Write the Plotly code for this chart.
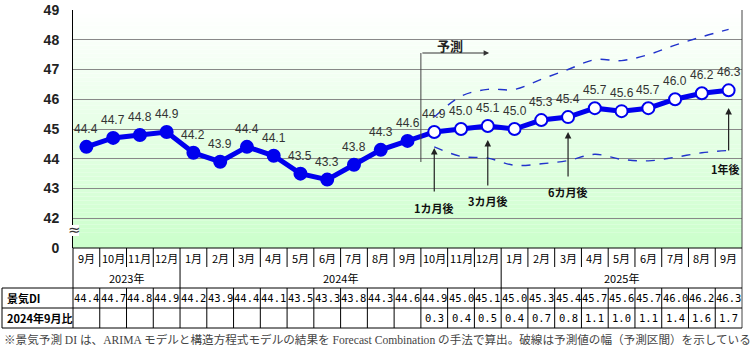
import plotly.graph_objects as go

# ---------------- data ----------------
months = ["9月", "10月", "11月", "12月", "1月", "2月", "3月", "4月", "5月", "6月", "7月", "8月",
          "9月", "10月", "11月", "12月", "1月", "2月", "3月", "4月", "5月", "6月", "7月", "8月", "9月"]
years = [("2023年", 0, 3), ("2024年", 4, 15), ("2025年", 16, 24)]
di = [44.4, 44.7, 44.8, 44.9, 44.2, 43.9, 44.4, 44.1, 43.5, 43.3, 43.8, 44.3,
      44.6, 44.9, 45.0, 45.1, 45.0, 45.3, 45.4, 45.7, 45.6, 45.7, 46.0, 46.2, 46.3]
n_actual = 13  # 2023/9 .. 2024/9 are actual values, rest forecast
ratio = [None] * 13 + [0.3, 0.4, 0.5, 0.4, 0.7, 0.8, 1.1, 1.0, 1.1, 1.4, 1.6, 1.7]
upper = [45.4, 46.1, 46.33, 46.33, 46.67, 47.0, 47.33, 47.3, 47.5, 47.82, 48.1, 48.35]
lower = [44.4, 44.08, 44.02, 43.78, 43.83, 43.94, 44.15, 43.98, 43.93, 44.05, 44.2, 44.28]
ytick_vals = [41, 42, 43, 44, 45, 46, 47, 48, 49]
ytick_text = ["0", "42", "43", "44", "45", "46", "47", "48", "49"]
callouts = [("1カ月後", 13), ("3カ月後", 15), ("6カ月後", 18), ("1年後", 24)]
footnote = ("※景気予測 DI は、ARIMA モデルと構造方程式モデルの結果を Forecast Combination "
            "の手法で算出。破線は予測値の幅（予測区間）を示している")

# ---------------- layout geometry ----------------
W, H = 751, 351
L, R, T, B = 73, 742, 10, 248
YMIN, YMAX = 41, 49
BLUE = "#0000ee"
JP = "Noto Sans CJK JP"
MONO = "DejaVu Sans Mono"


def px(x):
    return (x - L) / (R - L)


def py(y):
    return (B - y) / (B - T)


def val_y(pix):
    return YMAX - (pix - T) / (B - T) * (YMAX - YMIN)


xs = list(range(len(months)))
fig = go.Figure()

# dashed prediction interval
fx = xs[n_actual:]
for band in (upper, lower):
    fig.add_trace(go.Scatter(x=fx, y=band, mode="lines",
                             line=dict(color="#2233cc", width=1.4, dash="dash", shape="spline"),
                             hoverinfo="skip", showlegend=False))

# main line
fig.add_trace(go.Scatter(
    x=xs, y=di, mode="lines+markers",
    line=dict(color=BLUE, width=5),
    marker=dict(size=12,
                color=[BLUE if i < n_actual else "white" for i in xs],
                line=dict(color=BLUE, width=2)),
    showlegend=False))

shapes = []
# gradient background
N = 60
for k in range(N):
    t = (k + 0.5) / N  # 0 bottom -> 1 top
    c = int(round(202 + (255 - 202) * t ** 0.9))
    shapes.append(dict(type="rect", xref="paper", yref="paper", x0=0, x1=1,
                       y0=k / N, y1=(k + 1) / N, fillcolor=f"rgb({c},255,{c})",
                       line=dict(width=0), layer="below"))

blk = dict(color="black", width=1)
# right border, full height
shapes.append(dict(type="line", xref="paper", yref="paper", x0=1, x1=1, y0=py(328), y1=1, line=dict(color="#444", width=1)))
# left axis line continues through table
shapes.append(dict(type="line", xref="paper", yref="paper", x0=0, x1=0, y0=py(328), y1=0, line=blk))
# table horizontals
shapes.append(dict(type="line", xref="paper", yref="paper", x0=0, x1=1, y0=0, y1=0, line=blk))
for yy in (288, 308, 328):
    shapes.append(dict(type="line", xref="paper", yref="paper", x0=px(2), x1=1, y0=py(yy), y1=py(yy), line=blk))
shapes.append(dict(type="line", xref="paper", yref="paper", x0=px(2), x1=px(2), y0=py(328), y1=py(288), line=blk))
year_bounds = [s for _, s, _ in years[1:]]
for b in range(1, len(months)):
    bottom = 288 if b in year_bounds else 267
    shapes.append(dict(type="line", xref="x", yref="paper", x0=b - 0.5, x1=b - 0.5, y0=py(bottom), y1=0, line=blk))
    shapes.append(dict(type="line", xref="x", yref="paper", x0=b - 0.5, x1=b - 0.5, y0=py(328), y1=py(288), line=blk))

# forecast start marker line
fstart = n_actual - 0.5
shapes.append(dict(type="line", xref="x", yref="y", x0=fstart, x1=fstart, y0=val_y(162), y1=val_y(53),
                   line=dict(color="#444", width=1)))
# axis break white gap
shapes.append(dict(type="rect", xref="paper", yref="paper", x0=px(69), x1=px(79), y0=py(236), y1=py(225),
                   fillcolor="white", line=dict(width=0), layer="above"))

ann = []


def A(**kw):
    kw.setdefault("xanchor", "center")
    kw.setdefault("yanchor", "middle")
    kw.setdefault("showarrow", False)
    ann.append(kw)


# data labels
for i, v in enumerate(di):
    A(x=i, y=v, text=f"{v:.1f}", yshift=18,
      font=dict(family="Liberation Sans, Arial", size=12, color="#333"))

# 予測 arrow
A(x=15.05, y=val_y(53), ax=fstart, ay=val_y(53), axref="x", ayref="y", xref="x", yref="y",
  text="", showarrow=True, arrowhead=2, arrowsize=1.1, arrowwidth=1, arrowcolor="#333", standoff=0)
A(x=fstart + 1.1, y=val_y(45), text="<b>予測</b>", xref="x", yref="y",
  font=dict(family=JP, size=13, color="#222"))

# callouts
tips = {13: (148, 193, 208), 15: (140, 187, 201), 18: (132, 178, 192), 24: (108, 152, 169)}
for label, idx in callouts:
    tip, tail, lab = tips[idx]
    A(x=idx, y=val_y(tip), ax=idx, ay=val_y(tail), axref="x", ayref="y", xref="x", yref="y",
      text="", showarrow=True, arrowhead=2, arrowsize=1.1, arrowwidth=1.2, arrowcolor="#222", standoff=0)
    A(x=idx, y=val_y(lab), xref="x", yref="y", text=f"<b>{label}</b>",
      xshift=-3 if idx == 24 else 0, font=dict(family=JP, size=11, color="#111"))

# axis break symbol
A(x=px(74), y=py(230), xref="paper", yref="paper", text="≈",
  font=dict(family="DejaVu Sans", size=15, color="#333"))

# table text
for i, m in enumerate(months):
    A(x=i, y=py(258), xref="x", yref="paper", text=m, font=dict(family=JP, size=11, color="black"))
    A(x=i, y=py(298), xref="x", yref="paper", text=f"{di[i]:.1f}",
      font=dict(family=MONO, size=10.5, color="black"))
    if ratio[i] is not None:
        A(x=i, y=py(318), xref="x", yref="paper", text=f"{ratio[i]:.1f}",
          font=dict(family=MONO, size=10.5, color="black"))
for yl, s, e in years:
    A(x=(s + e) / 2, y=py(278), xref="x", yref="paper", text=yl, font=dict(family=JP, size=11, color="black"))
A(x=px(5), y=py(298), xref="paper", yref="paper", xanchor="left", text="<b>景気DI</b>",
  font=dict(family=JP, size=11, color="black"))
A(x=px(5), y=py(318), xref="paper", yref="paper", xanchor="left", text="<b>2024年9月比</b>",
  font=dict(family=JP, size=11, color="black"))
A(x=px(2), y=py(340), xref="paper", yref="paper", xanchor="left", text=footnote,
  font=dict(family=f"Liberation Serif, {JP}", size=11.6, color="#444"))

fig.update_layout(
    width=W, height=H,
    margin=dict(l=L, r=W - R, t=T, b=H - B, pad=0),
    paper_bgcolor="white", plot_bgcolor="white",
    shapes=shapes, annotations=ann,
    xaxis=dict(range=[-0.5, len(months) - 0.5], showticklabels=False, showgrid=False, zeroline=False,
               ticks="", showline=False, automargin=False),
    yaxis=dict(range=[YMIN, YMAX], tickvals=ytick_vals, ticktext=ytick_text, showgrid=True,
               gridcolor="#888", gridwidth=1, zeroline=False, showline=True, linecolor="black",
               linewidth=1, ticks="", ticklabelstandoff=10, automargin=False,
               tickfont=dict(family="Liberation Sans, Arial", size=14, color="#222", weight="bold")),
)
fig.write_html("out.html")
